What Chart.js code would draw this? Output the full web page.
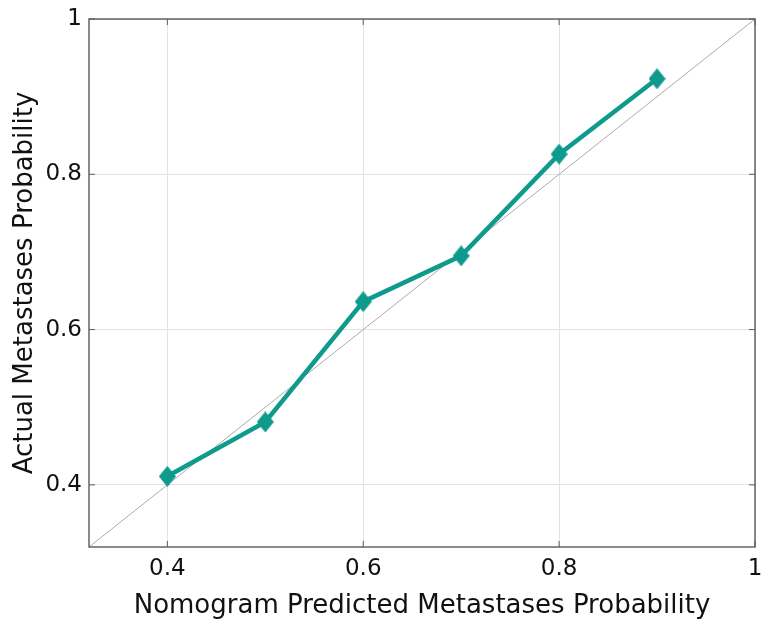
<!DOCTYPE html>
<html>
<head>
<meta charset="utf-8">
<script src="https://cdn.jsdelivr.net/npm/chart.js@4.4.1/dist/chart.umd.min.js"></script>
<style>
  html, body { margin: 0; padding: 0; background: #fff; }
  #wrap { width: 765px; height: 626px; }
</style>
</head>
<body>
<div id="wrap"><canvas id="calib"></canvas></div>
<script>
// Calibration data
const predicted = [0.4, 0.5, 0.6, 0.7, 0.8, 0.9];
const actual = [0.411, 0.481, 0.636, 0.695, 0.826, 0.923];
const diagonal = [0.32, 1];
const tickValues = [0.4, 0.6, 0.8, 1];
const axisMin = 0.32;
const axisMax = 1;

const fontFamily = '"DejaVu Sans", "Liberation Sans", Arial, sans-serif';
const teal = '#0f9a8e';

// Diamond marker, a bit taller than wide like the original
function makeDiamond(w, h, color) {
    const c = document.createElement('canvas');
    c.width = w;
    c.height = h;
    const g = c.getContext('2d');
    g.fillStyle = color;
    g.beginPath();
    g.moveTo(w / 2, 0);
    g.lineTo(w, h / 2);
    g.lineTo(w / 2, h);
    g.lineTo(0, h / 2);
    g.closePath();
    g.fill();
    return c;
}
const diamond = makeDiamond(17, 21, teal);

// Box round the plot area, with small inward ticks on all four sides
const framePlugin = {
    id: 'frame',
    afterDatasetsDraw(chart) {
        const { ctx, chartArea: a, scales } = chart;
        ctx.save();
        ctx.strokeStyle = '#5a5a5a';
        ctx.lineWidth = 1.4;
        ctx.strokeRect(a.left, a.top, a.right - a.left, a.bottom - a.top);
        ctx.lineWidth = 1;
        const len = 6;
        tickValues.forEach(v => {
            const x = scales.x.getPixelForValue(v);
            const y = scales.y.getPixelForValue(v);
            ctx.beginPath();
            ctx.moveTo(x, a.bottom); ctx.lineTo(x, a.bottom - len);
            ctx.moveTo(x, a.top); ctx.lineTo(x, a.top + len);
            ctx.moveTo(a.left, y); ctx.lineTo(a.left + len, y);
            ctx.moveTo(a.right, y); ctx.lineTo(a.right - len, y);
            ctx.stroke();
        });
        ctx.restore();
    }
};

const fmt = v => (v === 1 ? '1' : v.toFixed(1));

new Chart(document.getElementById('calib'), {
    type: 'line',
    data: {
        datasets: [
            {
                label: 'Nomogram',
                data: predicted.map((p, i) => ({ x: p, y: actual[i] })),
                borderColor: teal,
                backgroundColor: teal,
                borderWidth: 4.5,
                pointStyle: diamond,
                pointRadius: 10,
                tension: 0,
                order: 1
            },
            {
                label: 'Ideal',
                data: diagonal.map(v => ({ x: v, y: v })),
                borderColor: '#ababab',
                borderWidth: 1,
                pointRadius: 0,
                order: 2
            }
        ]
    },
    options: {
        responsive: true,
        maintainAspectRatio: false,
        animation: false,
        layout: { autoPadding: false, padding: { top: 19, right: 10, left: 0, bottom: 0 } },
        plugins: {
            legend: { display: false },
            tooltip: { enabled: false }
        },
        scales: {
            x: {
                type: 'linear',
                min: axisMin,
                max: axisMax,
                afterBuildTicks: s => { s.ticks = tickValues.map(v => ({ value: v })); },
                afterFit: s => { s.height = 79; s.paddingLeft = 0; s.paddingRight = 0; },
                grid: { color: '#e2e2e2', lineWidth: 1, drawTicks: false },
                border: { display: false },
                ticks: {
                    padding: 8,
                    color: '#111',
                    font: { family: fontFamily, size: 23 },
                    callback: fmt,
                    maxRotation: 0
                },
                title: {
                    display: true,
                    text: 'Nomogram Predicted Metastases Probability',
                    color: '#111',
                    font: { family: fontFamily, size: 26 },
                    padding: { top: 1 }
                }
            },
            y: {
                type: 'linear',
                min: axisMin,
                max: axisMax,
                afterBuildTicks: s => { s.ticks = tickValues.map(v => ({ value: v })); },
                afterFit: s => { s.width = 89; s.paddingTop = 0; s.paddingBottom = 0; },
                grid: { color: '#e2e2e2', lineWidth: 1, drawTicks: false },
                border: { display: false },
                ticks: {
                    padding: 7,
                    color: '#111',
                    font: { family: fontFamily, size: 23 },
                    callback: fmt
                },
                title: {
                    display: true,
                    text: 'Actual Metastases Probability',
                    color: '#111',
                    font: { family: fontFamily, size: 26 },
                    padding: { top: 10, bottom: 2 }
                }
            }
        }
    },
    plugins: [framePlugin]
});
</script>
</body>
</html>
